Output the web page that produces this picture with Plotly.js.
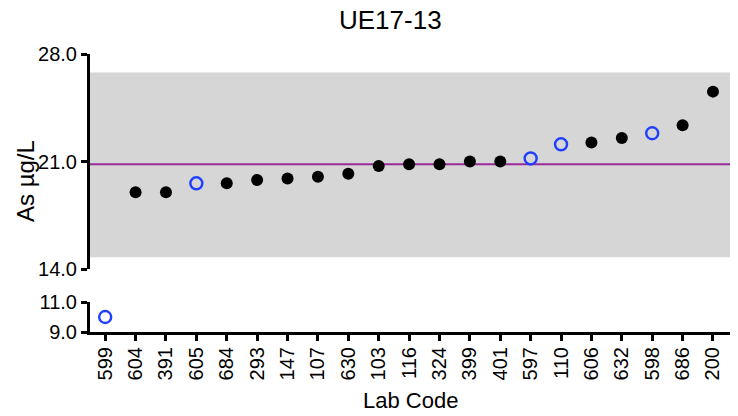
<!DOCTYPE html>
<html>
<head>
<meta charset="utf-8">
<script src="https://cdn.plot.ly/plotly-3.0.1.min.js"></script>
<style>html,body{margin:0;padding:0;background:#fff;}#chart{width:738px;height:416px;}</style>
</head>
<body>
<div id="chart"></div>
<script>
// Data
const labCodes = ["599","604","391","605","684","293","147","107","630","103","116","324","399","401","597","110","606","632","598","686","200"];
const asValues = [10.0, 19.0, 19.0, 19.58, 19.58, 19.8, 19.9, 20.0, 20.2, 20.71, 20.82, 20.82, 21.0, 21.0, 21.2, 22.12, 22.23, 22.53, 22.84, 23.36, 25.55];
const openMarker = [true, false, false, true, false, false, false, false, false, false, false, false, false, false, true, true, false, false, true, false, false];
const assignedValue = 20.82;
const acceptLow = 14.76;
const acceptHigh = 26.8;
const breakValue = 12;
const upperTicks = [14, 21, 28];
const lowerTicks = [9, 11];

const FONT = "Liberation Sans, Arial, sans-serif";
const BLUE = "#1f3fff";

function pick(filterFn) {
  const xs = [], ys = [];
  labCodes.forEach((c, i) => { if (filterFn(i)) { xs.push(c); ys.push(asValues[i]); } });
  return {xs, ys};
}
const traces = [];
[["y", i => asValues[i] >= breakValue], ["y2", i => asValues[i] < breakValue]].forEach(([ax, inAx]) => {
  const filled = pick(i => inAx(i) && !openMarker[i]);
  const open = pick(i => inAx(i) && openMarker[i]);
  traces.push({x: filled.xs, y: filled.ys, yaxis: ax, type: "scatter", mode: "markers",
    marker: {symbol: "circle", size: 12, color: "#000"}, hoverinfo: "x+y", showlegend: false});
  traces.push({x: open.xs, y: open.ys, yaxis: ax, type: "scatter", mode: "markers",
    marker: {symbol: "circle-open", size: 12, color: BLUE, line: {width: 2.4, color: BLUE}}, hoverinfo: "x+y", showlegend: false});
});

const H = 416, T = 54, B = 84;
const plotH = H - T - B;
const upperBottom = (H - B - 269) / plotH;
const lowerTop = (H - B - 302) / plotH;

const axisCommon = {showline: true, linecolor: "#000", linewidth: 3, ticks: "outside", ticklen: 6, tickwidth: 3,
  tickcolor: "#000", showgrid: false, zeroline: false, tickfont: {family: FONT, size: 20, color: "#000"}, fixedrange: true};

const layout = {
  width: 738, height: 416,
  margin: {l: 90, r: 8, t: T, b: B},
  paper_bgcolor: "#fff", plot_bgcolor: "rgba(0,0,0,0)",
  font: {family: FONT, color: "#000"},
  showlegend: false,
  xaxis: Object.assign({}, axisCommon, {type: "category", categoryorder: "array", categoryarray: labCodes,
    range: [-0.5, 20.56], anchor: "y2", tickangle: -90, ticklabelstandoff: -2}),
  yaxis: Object.assign({}, axisCommon, {domain: [upperBottom, 1], range: [14, 28], tickvals: upperTicks,
    tickformat: ".1f", anchor: "x"}),
  yaxis2: Object.assign({}, axisCommon, {domain: [0, lowerTop], range: [9, 11], tickvals: lowerTicks,
    tickformat: ".1f", anchor: "x"}),
  shapes: [
    {type: "rect", xref: "paper", yref: "y", x0: 0, x1: 1, y0: acceptLow, y1: acceptHigh,
      fillcolor: "#d6d6d6", line: {width: 0}, layer: "below"},
    {type: "line", xref: "paper", yref: "y", x0: 0, x1: 1, y0: assignedValue, y1: assignedValue,
      line: {color: "#9b2b9b", width: 2}, layer: "below"}
  ],
  annotations: [
    {text: "UE17-13", xref: "paper", yref: "paper", x: 0.469, y: 1, yshift: 34, showarrow: false,
      font: {family: FONT, size: 26, color: "#000"}, xanchor: "center", yanchor: "middle"},
    {text: "As µg/L", xref: "paper", yref: "paper", x: 0, xshift: -65, y: 0.543, showarrow: false, textangle: -90,
      font: {family: FONT, size: 24, color: "#000"}, xanchor: "center", yanchor: "middle"},
    {text: "Lab Code", xref: "paper", yref: "paper", x: 0.5, y: 0, yshift: -68, showarrow: false,
      font: {family: FONT, size: 22, color: "#000"}, xanchor: "center", yanchor: "middle"}
  ]
};

Plotly.newPlot("chart", traces, layout, {displayModeBar: false, staticPlot: true});
</script>
</body>
</html>
